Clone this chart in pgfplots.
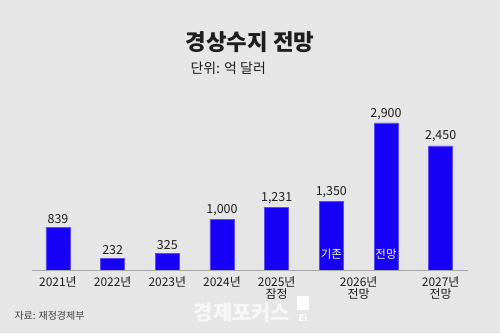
\documentclass[border=0pt]{standalone}
\usepackage{pgfplots}
\pgfplotsset{compat=1.18}
\usepackage{fontspec}
\setmainfont{Noto Sans CJK KR}
\definecolor{bg}{RGB}{230,230,230}
\definecolor{barblue}{RGB}{22,0,245}
\definecolor{txt}{RGB}{30,30,30}
\begin{document}
\begin{tikzpicture}[x=1bp,y=1bp]
\fill[bg] (0,0) rectangle (500,333);
\node[font=\bfseries\fontsize{22.5}{26}\selectfont, text=txt] at (250,291) {경상수지 전망};
\node[anchor=west, font=\fontsize{14}{16}\selectfont, text=txt] at (187,265) {단위: 억 달러};
\begin{axis}[
  at={(32bp,63bp)}, anchor=south west,
  width=436bp, height=170bp, scale only axis,
  xmin=-0.475, xmax=7.5, ymin=0, ymax=3353,
  axis line style={draw=none},
  ytick=\empty,
  xtick={0,1,2,3,4,5.5,7},
  xticklabels={2021년,2022년,2023년,2024년,{2025년\\잠정},{2026년\\전망},{2027년\\전망}},
  major tick length=0pt,
  xticklabel style={align=center, font=\fontsize{12}{12.5}\selectfont, text=txt, inner sep=1pt, yshift=-5bp},
  ybar, bar width=24bp,
  /pgf/number format/.cd, 1000 sep={,}, assume math mode=true,
  /pgfplots/.cd,
  nodes near coords,
  every node near coord/.append style={font=\fontsize{12.5}{14}\selectfont, text=txt},
  clip=false,
]
\addplot[fill=barblue, draw=barblue!70!white, line width=0.4pt] coordinates {(0,839) (1,232) (2,325) (3,1000) (4,1231) (5,1350) (6,2900) (7,2450)};
\draw[black!35, line width=0.6pt] (axis cs:-0.475,0) -- (axis cs:7.5,0);
\node[anchor=south, text=white, font=\fontsize{11.5}{12}\selectfont, yshift=7bp] at (axis cs:5,0) {기존};
\node[anchor=south, text=white, font=\fontsize{11.5}{12}\selectfont, yshift=7bp] at (axis cs:6,0) {전망};
\end{axis}
\node[anchor=west, font=\fontsize{10}{11}\selectfont, text=black!75] at (11,17) {자료: 재정경제부};
\node[text=white!97!black, font=\bfseries\fontsize{21}{24}\selectfont] at (242,20) {경제포커스};
\fill[white] (297,23) rectangle (309,37);
\node[text=white, font=\bfseries\fontsize{9}{10}\selectfont, inner sep=0pt] at (303,15) {Ei};
\end{tikzpicture}
\end{document}
